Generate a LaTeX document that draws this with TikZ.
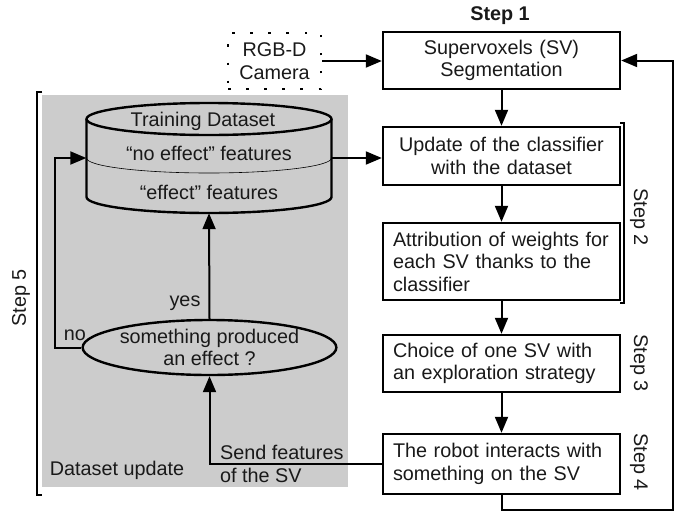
\documentclass[tikz,border=0pt]{standalone}
\usepackage{fontspec}
\setmainfont{Liberation Sans}
\usetikzlibrary{arrows.meta,shapes.geometric,calc}
\begin{document}
\begin{tikzpicture}[x=1pt,y=-1pt,
  every node/.style={font=\fontsize{19.8}{22.5}\selectfont, text=black!90},
  stepbox/.style={draw, line width=2.4pt, minimum width=237pt, inner xsep=10pt, text width=217pt},
  arr/.style={line width=2pt, -{Triangle[length=16pt,width=13pt]}},
  steplab/.style={font=\fontsize{19.8}{22.5}\selectfont}]
\useasboundingbox (0,0) rectangle (694,512);
% gray area
\fill[gray!40] (42,95) rectangle (348,487);
% step 5 bracket
\draw[line width=2pt] (42,92) -- (37,92) -- (37,495) -- (42,495);
\node[steplab, rotate=90] (s5) at (21,298) {Step 5};
% step 2 bracket
\draw[line width=2pt] (620,123) -- (624,123) -- (624,303) -- (620,303);
% boxes
\node[stepbox, align=center, minimum height=57pt] (seg) at (501.5,60.5) {Supervoxels (SV)\\Segmentation};
\node[stepbox, align=center, minimum height=58pt] (upd) at (501.5,156) {Update of the classifier\\with the dataset};
\node[stepbox, align=left, minimum height=77pt] (att) at (501.5,261.5) {Attribution of weights for\\each SV thanks to the\\classifier};
\node[stepbox, align=left, minimum height=57pt] (cho) at (501.5,363.5) {Choice of one SV with\\an exploration strategy};
\node[stepbox, align=left, minimum height=60pt] (rob) at (501.5,464) {The robot interacts with\\something on the SV};
\node[steplab, font=\fontsize{19.8}{22.5}\selectfont\bfseries] (s1) at (500,16) {Step 1};
\node[steplab, rotate=-90] (s2) at (639,217) {Step 2};
\node[steplab, rotate=-90] (s3) at (639,363) {Step 3};
\node[steplab, rotate=-90] (s4) at (639,462) {Step 4};
% camera
\node[draw, line width=2.6pt, dash pattern=on 2.6pt off 15.5pt, minimum width=93pt, minimum height=56pt, align=center, inner sep=0pt] (cam) at (274.5,61) {RGB-D\\Camera};
% cylinder
\node[minimum width=245pt, minimum height=110pt, inner sep=0pt] (cyl) at (209,158) {};
\draw[line width=2.4pt] (209,119) ellipse [x radius=122.5, y radius=16];
\draw[line width=2.4pt] (86.5,119) -- (86.5,197) arc[start angle=180, end angle=0, x radius=122.5, y radius=16] -- (331.5,119);
\draw[line width=0.6pt] (86.5,158) arc[start angle=180, end angle=0, x radius=122.5, y radius=15];
\node (cyt) at (203,121) {Training Dataset};
\node (cyn) at (209,153) {“no effect” features};
\node (cye) at (209,192) {“effect” features};
% decision
\node[draw, ellipse, line width=2.4pt, minimum width=247pt, minimum height=55pt, inner sep=0pt, align=center] (dec) at (209.5,347.5) {something produced\\an effect ?};
% connectors
\draw[arr] (cam.east) -- (cam.east -| seg.west);
\draw[arr] (seg) -- (upd);
\draw[arr] (upd) -- (att);
\draw[arr] (att) -- (cho);
\draw[arr] (cho) -- (rob);
\coordinate (fb) at (673,510);
\draw[arr] (rob.south) |- (fb) |- (seg.east);
\draw[arr] (cyl.east) -- (cyl.east -| upd.west);
\draw[arr] (rob.west) -| (dec.south);
\draw[arr] (dec.north) -- (cyl.south);
\draw[arr] (dec.west) -- ++(-26,0) |- (cyl.west);
% labels
\node (yes) at (185,303) {yes};
\node (no) at (75,335) {no};
\node[anchor=west, align=left, inner sep=0pt] (send) at (220,464) {Send features\\of the SV};
\node (du) at (117,470) {Dataset update};
\end{tikzpicture}
\end{document}
